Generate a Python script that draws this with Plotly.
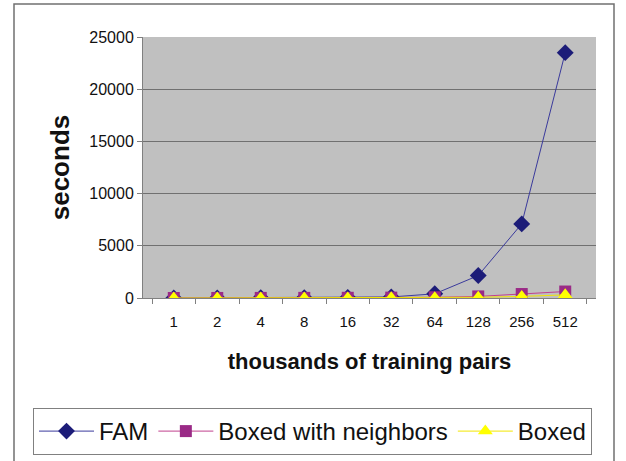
import plotly.graph_objects as go

categories = ["1", "2", "4", "8", "16", "32", "64", "128", "256", "512"]
fam = [5, 10, 20, 30, 50, 100, 400, 2150, 7100, 23500]
boxed_neighbors = [2, 4, 8, 12, 20, 35, 70, 150, 380, 620]
boxed = [1, 2, 4, 6, 10, 18, 35, 70, 150, 300]

fig = go.Figure()
fig.add_trace(go.Scatter(x=categories, y=fam, name="FAM", mode="lines+markers",
                         line=dict(color="#3a3a9c", width=1),
                         marker=dict(symbol="diamond", size=13, color="#1c1c78")))
fig.add_trace(go.Scatter(x=categories, y=boxed_neighbors, name="Boxed with neighbors", mode="lines+markers",
                         line=dict(color="#c0408e", width=1),
                         marker=dict(symbol="square", size=12, color="#9a2a86")))
fig.add_trace(go.Scatter(x=categories, y=boxed, name="Boxed", mode="lines+markers",
                         line=dict(color="#f2e600", width=1),
                         marker=dict(symbol="triangle-up", size=13, color="#ffff00")))

fig.update_layout(
    width=626, height=461,
    margin=dict(l=143, r=30, t=37, b=163, autoexpand=False),
    paper_bgcolor="white",
    plot_bgcolor="#c0c0c0",
    font=dict(family="Liberation Sans, Arial", color="#111111", size=15),
    showlegend=True,
    legend=dict(orientation="h", xref="paper", yref="paper",
                x=(33 - 143) / 453, xanchor="left", y=(298 - 408) / 261, yanchor="top",
                bordercolor="#808080", borderwidth=1, bgcolor="white",
                font=dict(size=24, family="Liberation Sans, Arial"),
                itemwidth=55, tracegroupgap=0),
    xaxis=dict(type="category", showgrid=False, showline=True, linecolor="#808080",
               ticks="outside", tickson="boundaries", ticklen=5, tickcolor="#808080",
               tickfont=dict(size=15), ticklabelstandoff=10,
               title=dict(text="<b>thousands of training pairs</b>", font=dict(size=22), standoff=24)),
    yaxis=dict(range=[0, 25000], dtick=5000, tickformat="d", showgrid=True, gridcolor="#707070", gridwidth=1,
               showline=True, linecolor="#808080", ticks="outside", ticklen=5, tickcolor="#808080",
               zeroline=False, tickfont=dict(size=16),
               title=dict(text="<b>seconds</b>", font=dict(size=26), standoff=12)),
)

fig.add_shape(type="rect", xref="paper", yref="paper",
              x0=(14 - 143) / 453, x1=(614 - 143) / 453,
              y0=(298 - 475) / 261, y1=(298 - 4) / 261,
              line=dict(color="#707070", width=1.5), fillcolor="rgba(0,0,0,0)", layer="below")

fig.write_html("out.html", config={"displayModeBar": False},
               post_script="document.body.style.margin='0';")
